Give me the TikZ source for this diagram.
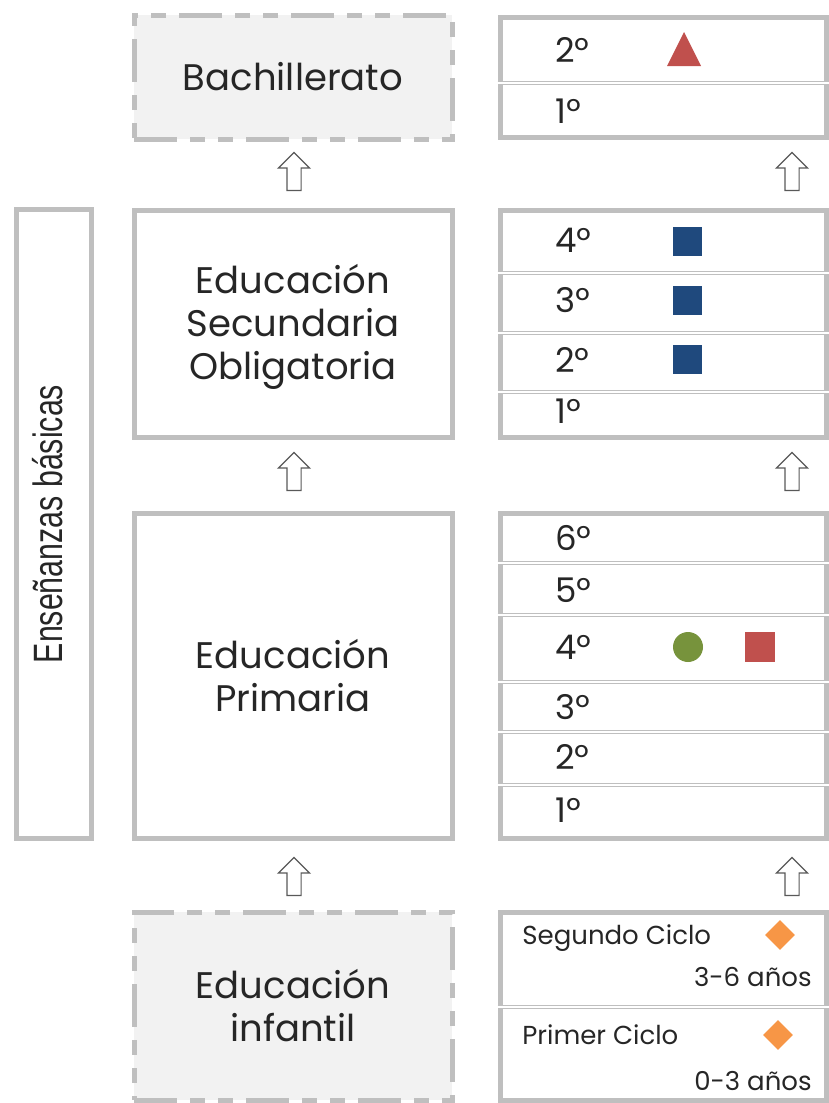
\documentclass[tikz,border=0pt]{standalone}
\usepackage{fontspec}
\setmainfont{Poppins}
\newfontfamily\narrowfont{Liberation Sans}
\usetikzlibrary{shapes.arrows,shapes.geometric,fit}

\definecolor{boxgray}{HTML}{BFBFBF}
\definecolor{boxfill}{HTML}{F2F2F2}
\definecolor{txt}{HTML}{262626}
\definecolor{markred}{HTML}{C0504D}
\definecolor{markblue}{HTML}{1F497D}
\definecolor{markgreen}{HTML}{77933C}
\definecolor{markorange}{HTML}{F79646}
\definecolor{arrowgray}{HTML}{595959}

\tikzset{
  stagebox/.style={draw=boxgray, line width=2.5pt, inner sep=0pt},
  dashbox/.style={stagebox, fill=boxfill,
    dash pattern=on 21.5pt off 6.5pt on 7.5pt off 6.5pt on 7.5pt off 6.5pt},
  stagelbl/.style={align=center, text=txt, inner sep=0pt,
    font=\fontsize{18.5}{21.5}\selectfont},
  yearbox/.style={draw=boxgray, line width=2.5pt, inner sep=0pt},
  rowsep/.style={draw=boxgray, line width=0.8pt, double=white, double distance=0.6pt},
  curso/.style={anchor=west, text=txt, inner sep=0pt, font=\fontsize{17}{20}\selectfont},
  ciclo/.style={text=txt, inner sep=0pt, font=\fontsize{13}{16}\selectfont},
  upblock/.style={shape=single arrow, draw=arrowgray, fill=white, line width=0.6pt,
    shape border rotate=90, inner sep=3.25pt, minimum height=19pt,
    single arrow head extend=4.25pt},
  bluemark/.style={fill=markblue, inner sep=0pt, minimum size=14.5pt},
  ageflag/.style={shape=diamond, fill=markorange, inner sep=0pt, minimum size=15pt}
}

\begin{document}
\begin{tikzpicture}[x=0.5pt, y=-0.5pt]
  \useasboundingbox (0,0) rectangle (829,1103);

  % Enseñanzas básicas
  \node[stagebox, fit={(16,209) (91,838)}] (basicas) {};
  \node[rotate=90, text=txt, inner sep=0pt, font=\narrowfont\fontsize{20.5}{24}\selectfont]
    (basicaslbl) at (48,524) {\scalebox{0.74}[1]{Enseñanzas básicas}};

  % Etapas
  \node[dashbox, fit={(134,15) (452,139)}] (bach) {};
  \node[stagelbl] (bachlbl) at (293,77) {Bachillerato};
  \node[stagebox, fit={(134,210) (452,437)}] (eso) {};
  \node[stagelbl] (esolbl) at (293,327) {Educación\\Secundaria\\Obligatoria};
  \node[stagebox, fit={(134,513) (452,838)}] (prim) {};
  \node[stagelbl] (primlbl) at (293,676) {Educación\\Primaria};
  \node[dashbox, fit={(134,912) (452,1100)}] (infantil) {};
  \node[stagelbl] (inflbl) at (293,1006) {Educación\\infantil};

  % Cursos
  \node[yearbox, fit={(500,17) (826,137)}] (bachc) {};
  \draw[rowsep] (bachc.west |- 0,83) -- (bachc.east |- 0,83);
  \node[curso] (b2) at (555,50) {2º};
  \node[curso] (b1) at (555,111) {1º};
  \fill[markred] (667,66) -- (701,66) -- (684,32) -- cycle;

  \node[yearbox, fit={(500,210) (826,437)}] (esoc) {};
  \foreach \y in {273,333,392}
    \draw[rowsep] (esoc.west |- 0,\y) -- (esoc.east |- 0,\y);
  \node[curso] (e4) at (555,240) {4º};
  \node[curso] (e3) at (555,300) {3º};
  \node[curso] (e2) at (555,360) {2º};
  \node[curso] (e1) at (555,411) {1º};
  \node[bluemark] (e4m) at (687,241) {};
  \node[bluemark] (e3m) at (687,300) {};
  \node[bluemark] (e2m) at (687,359) {};

  \node[yearbox, fit={(500,513) (826,838)}] (primc) {};
  \foreach \y in {563,615,682,732,785}
    \draw[rowsep] (primc.west |- 0,\y) -- (primc.east |- 0,\y);
  \node[curso] (p6) at (555,538) {6º};
  \node[curso] (p5) at (555,590) {5º};
  \node[curso] (p4) at (555,647) {4º};
  \node[curso] (p3) at (555,707) {3º};
  \node[curso] (p2) at (555,757) {2º};
  \node[curso] (p1) at (555,810) {1º};
  \node[circle, fill=markgreen, inner sep=0pt, minimum size=15pt] (p4c) at (688,647) {};
  \node[fill=markred, inner sep=0pt, minimum size=15pt] (p4m) at (760,647) {};

  \node[yearbox, fit={(500,912) (826,1100)}] (infc) {};
  \draw[rowsep] (infc.west |- 0,1007) -- (infc.east |- 0,1007);
  \node[ciclo, anchor=west] (seg) at (522,938) {Segundo Ciclo};
  \node[ciclo, anchor=east] (seged) at (812,977) {3-6 años};
  \node[ageflag] (segm) at (780,935) {};
  \node[ciclo, anchor=west] (pri) at (522,1035) {Primer Ciclo};
  \node[ciclo, anchor=east] (prided) at (812,1081) {0-3 años};
  \node[ageflag] (prim) at (778,1035) {};

  % Flechas
  \foreach \y/\n in {175/a, 475/b, 880/c} {
    \node[upblock] (l\n) at (294,\y) {};
    \node[upblock] (r\n) at (792,\y) {};
  }

\end{tikzpicture}
\end{document}
